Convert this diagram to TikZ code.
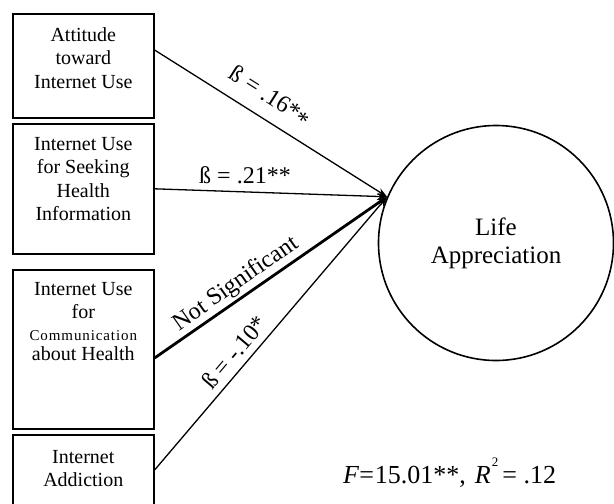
\documentclass[tikz,border=0pt]{standalone}
\usepackage{fontspec}
\setmainfont{Liberation Serif}
\usetikzlibrary{arrows.meta}
\begin{document}
\begin{tikzpicture}[x=1pt,y=-1pt,
  box/.style={draw,line width=1.6pt,minimum width=141pt,anchor=north west,inner sep=0pt},
  boxtext/.style={anchor=north,align=center,inner sep=0pt,font=\fontsize{20}{23.5}\selectfont},
  effect/.style={line width=1.3pt,-{Stealth[length=10pt,width=7pt]}},
  coef/.style={font=\fontsize{24}{28}\selectfont,inner sep=0pt}]
\useasboundingbox (0,0) rectangle (614,504);

% predictor boxes
\node[box,minimum height=104pt] (b1) at (12,13) {};
\node[box,minimum height=130pt] (b2) at (12,123) {};
\node[box,minimum height=159pt] (b3) at (12,269) {};
\node[box,minimum height=100pt] (b4) at (12,434) {};

\node[boxtext] (t1) at ([yshift=-14pt]b1.north) {Attitude\\toward\\Internet Use};
\node[boxtext] (t2) at ([yshift=-14pt]b2.north) {Internet Use\\for Seeking\\Health\\Information};
\node[boxtext] (t3) at ([yshift=-13pt]b3.north)
  {Internet Use\\[-0.5pt]for\\[-1pt]{\fontsize{15}{17}\selectfont\addfontfeature{LetterSpace=6}Communication}\\[-3.5pt]about Health};
\node[boxtext] (t4) at ([yshift=-16pt]b4.north) {Internet\\Addiction};

% outcome
\node[draw,circle,line width=1.6pt,minimum size=235pt,inner sep=0pt,align=center,
      font=\fontsize{25}{28}\selectfont] (lc) at (496,243) {Life\\Appreciation};

% start points of the paths
\coordinate (s1) at ([yshift=-37pt]b1.north east);
\coordinate (s2) at (b2.east);
\coordinate (s3) at ([yshift=-89pt]b3.north east);
\coordinate (s4) at ([yshift=-36pt]b4.north east);

% paths
\draw[effect] (s1) -- (lc.157.5);
\draw[effect] (s2) -- (lc.157.5);
\draw[effect,line width=2.8pt] (s3) -- (lc.157.5);
\draw[effect] (s4) -- (lc.157.5);

% path coefficients, set along their paths
\node[coef,rotate=-32.4] (c1) at (270,97) {ß = .16*\raisebox{-4pt}{*}};
\node[coef] (c2) at (245,175) {ß = .21**};
\node[coef,rotate=35] (c3) at (236,284) {Not Significant};
\node[coef,rotate=49.8] (c4) at (234,352) {ß = -.10*};

% model fit
\node[anchor=base west,inner sep=0pt,font=\fontsize{26}{30}\selectfont] (fit) at (343,483)
  {\textit{F}=\hspace{1pt}15.01**,\hspace{9pt}\textit{R}\hspace{1pt}\raisebox{17pt}{\fontsize{13}{13}\selectfont 2}\hspace{4pt}= .12};
\end{tikzpicture}
\end{document}
